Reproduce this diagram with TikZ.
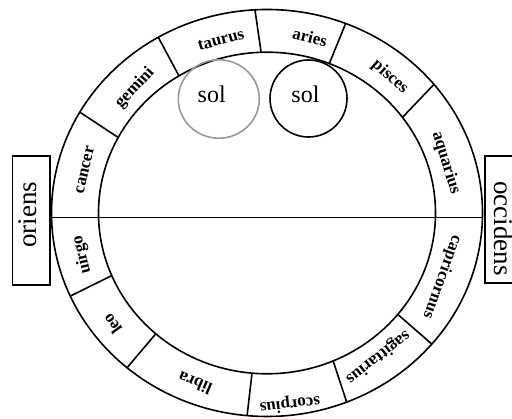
\documentclass[tikz,border=0pt]{standalone}
\usepackage{fontspec}
\setmainfont{Liberation Serif}
\definecolor{solgray}{gray}{0.6}
\begin{document}
\begin{tikzpicture}[x=1pt,y=1pt,
  ring/.style={line width=1.6pt},
  sign/.style={font=\fontsize{17}{17}\selectfont\bfseries, inner sep=0pt},
  big/.style={font=\fontsize{27}{27}\selectfont, inner sep=0pt},
  soltext/.style={font=\fontsize{24}{24}\selectfont, inner sep=0pt},
  boxstyle/.style={draw, line width=1.3pt, inner sep=0pt}]
\clip (0,0) rectangle (512,419);
\def\cx{267}\def\cy{206}
\def\orx{215.5}\def\ory{203.5}\def\irx{168.5}\def\iry{160.8}
% rings
\draw[ring] (\cx,\cy) ellipse [x radius=\orx, y radius=\ory];
\draw[ring] (\cx,\cy) ellipse [x radius=\irx, y radius=\iry];
% dividers
\foreach \a/\b in {92/93.2, 68.3/68.6, 36.5/39.2, -39.1/-40.1, -66.9/-68.3,
                   -95.1/-95.3, -131.3/-130.5, -157.1/-155.9, 152/150.3, 121.5/120.3}
  \draw[ring] ({\cx+\irx*cos(\a)},{\cy+\iry*sin(\a)}) -- ({\cx+\orx*cos(\b)},{\cy+\ory*sin(\b)});
% horizon
\coordinate (hl) at ({\cx-\orx*cos(1.2)},201.5);
\coordinate (hr) at ({\cx+\orx*cos(1.2)},201.5);
\draw[line width=1.8pt] (hl) -- (hr);
% suns
\draw[line width=1.6pt, solgray] (218.8,320) ellipse [x radius=40.5, y radius=39.2];
\draw[line width=1.6pt] (308.5,320.5) circle [radius=38.5];
\node[soltext] (sol1) at (211.7,324.5) {sol};
\node[soltext] (sol2) at (305.5,324.5) {sol};
% signs
\node[sign, rotate=15]   (taurus) at (221,379) {taurus};
\node[sign, rotate=-14]  (aries) at (310,382) {aries};
\node[sign, rotate=-42]  (pisces) at (390,342) {pisces};
\node[sign, rotate=-73]  (aquarius) at (446,256) {aquarius};
\node[sign, rotate=-110] (capricornus) at (442,142) {capricornus};
\node[sign, rotate=-142] (sagittarius) at (378,62) {sagittarius};
\node[sign, rotate=-173] (scorpius) at (290,15) {scorpius};
\node[sign, rotate=157]  (libra) at (195,36) {libra};
\node[sign, rotate=126]  (leo) at (112,95) {leo};
\node[sign, rotate=103]  (uirgo) at (82,164) {uirgo};
\node[sign, rotate=77]   (cancer) at (85,249) {cancer};
\node[sign, rotate=47]   (gemini) at (135,331) {gemini};
% horizon boxes
\node[boxstyle, minimum width=37.3pt, minimum height=129pt] (orbox) at (31.3,198.5) {};
\node[big, rotate=90] (oriens) at (28,204) {oriens};
\node[boxstyle, minimum width=37.3pt, minimum height=127pt] (occbox) at (503.6,199.5) {};
\node[big, rotate=-90] (occidens) at (504,190.7) {occidens};
\end{tikzpicture}
\end{document}
